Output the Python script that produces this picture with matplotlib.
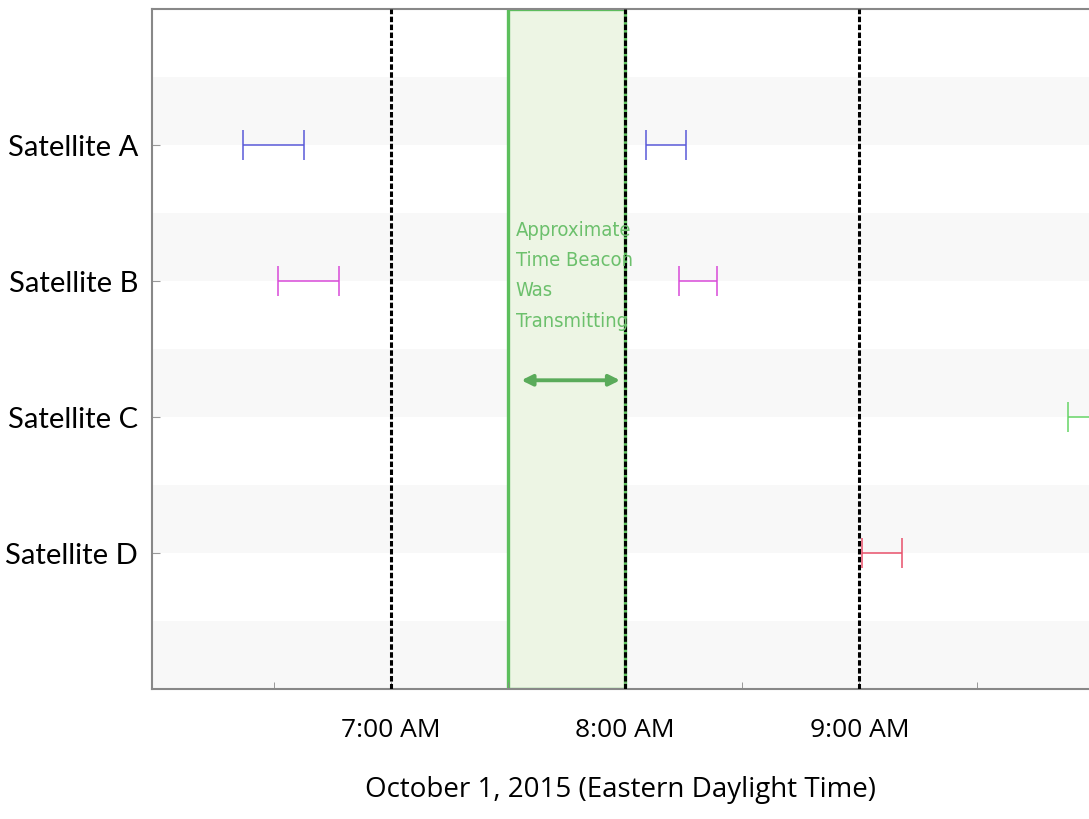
import matplotlib
matplotlib.use('Agg')
import matplotlib.pyplot as plt

plt.rcParams['font.family'] = ['Lato', 'DejaVu Sans']

# satellites, top to bottom
satellites = ['Satellite A', 'Satellite B', 'Satellite C', 'Satellite D']
sat_colors = ['#5a5ad8', '#d84ad8', '#66d466', '#e8506a']

# visible passes (start, end) in decimal hours, EDT
pass_starts = [[6.37, 8.09], [6.52, 8.23], [9.89], [9.01]]
pass_ends = [[6.63, 8.26], [6.78, 8.39], [10.3], [9.18]]

hour_ticks = [7, 8, 9]
hour_labels = ['7:00 AM', '8:00 AM', '9:00 AM']
minor_ticks = [6.5, 7.5, 8.5, 9.5]
beacon_window = (7.5, 8.0)

fig = plt.figure(figsize=(10.89, 8.20), dpi=100)
ax = fig.add_axes([152 / 1089, 1 - 690 / 820, 1 - 152 / 1089, 680 / 820])
ax.set_xlim(5.98, 9.98)
ax.set_ylim(0, 5)

# light stripes
for k in range(5):
    ax.axhspan(k, k + 0.5, color='#f8f8f8', zorder=0, lw=0)

# beacon window
ax.axvspan(beacon_window[0], beacon_window[1], facecolor='#edf5e4',
           edgecolor='#5cbf5c', lw=2.4, zorder=1)

for h in hour_ticks:
    ax.axvline(h, color='black', lw=2.2, linestyle=(0, (1.8, 0.8)), zorder=3)

# passes
ypos = [4, 3, 2, 1]
for y, c, st, en in zip(ypos, sat_colors, pass_starts, pass_ends):
    for s, e in zip(st, en):
        ax.errorbar((s + e) / 2, y, xerr=(e - s) / 2, fmt='none', ecolor=c,
                    elinewidth=1.1, capsize=11, capthick=1.1, zorder=4)

ax.text(7.533, 3.45, 'Approximate\nTime Beacon\nWas\nTransmitting',
        family='DejaVu Sans', fontstretch='condensed', fontsize=14.5,
        color='#6cc06c', va='top', ha='left', linespacing=1.75, zorder=5)
ax.annotate('', xy=(7.545, 2.27), xytext=(7.99, 2.27),
            arrowprops=dict(arrowstyle='<|-|>', color='#5aab5a', lw=2.8,
                            mutation_scale=16), zorder=5)

ax.set_yticks(ypos)
ax.set_yticklabels(satellites, fontsize=21)
ax.set_xticks(hour_ticks)
ax.set_xticklabels(hour_labels, family=['Open Sans', 'DejaVu Sans'], fontsize=19)
ax.set_xticks(minor_ticks, minor=True)
ax.tick_params(axis='y', direction='in', length=6, color='#999999', pad=10)
ax.tick_params(axis='x', which='both', direction='in', length=5, color='#888888', pad=20)
ax.set_xlabel('October 1, 2015 (Eastern Daylight Time)', family=['Open Sans', 'DejaVu Sans'],
              fontsize=20, labelpad=24)

for side in ['left', 'bottom', 'top']:
    ax.spines[side].set_color('#888888')
    ax.spines[side].set_linewidth(1.5)
ax.spines['right'].set_visible(False)

fig.savefig('out.png', dpi=100)
